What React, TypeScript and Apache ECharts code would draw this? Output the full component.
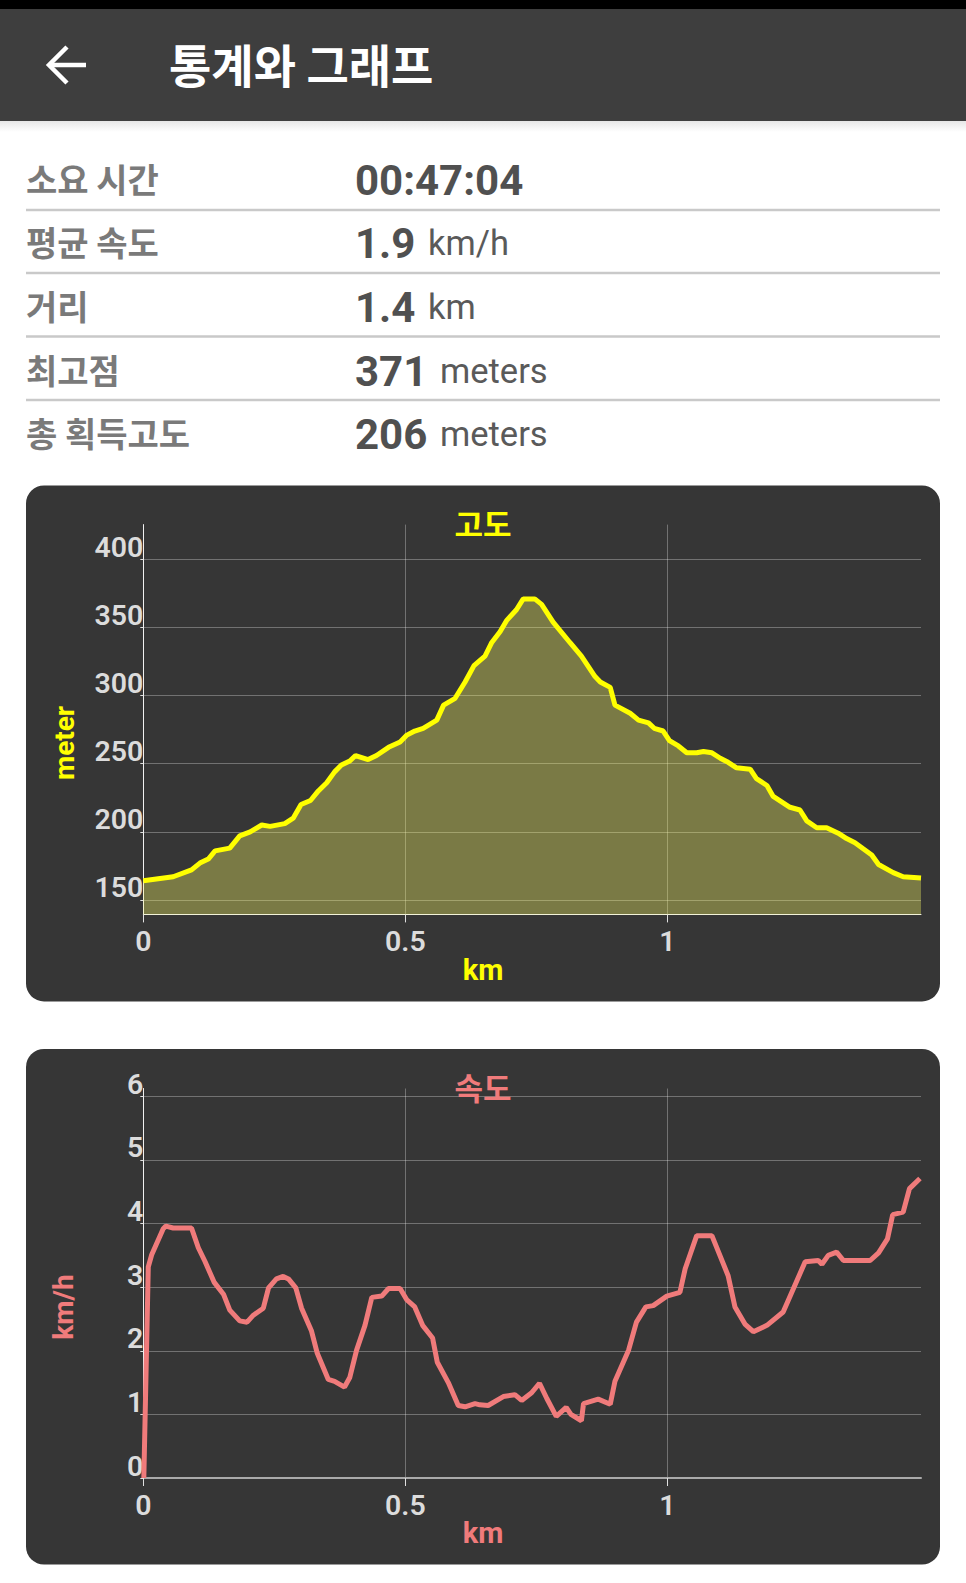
import * as echarts from "echarts";
import { useEffect, useRef } from "react";

const statLabels = ["소요 시간", "평균 속도", "거리", "최고점", "총 획득고도"];
const statValues = ["00:47:04", "1.9", "1.4", "371", "206"];
const statUnits = ["", "km/h", "km", "meters", "meters"];

// km, meters
const elevation = [
  [0, 164], [0.057, 167], [0.092, 172], [0.108, 177], [0.124, 180], [0.137, 186], [0.165, 188],
  [0.184, 197], [0.204, 200], [0.226, 205], [0.242, 204], [0.27, 206], [0.286, 210], [0.301, 220],
  [0.319, 223], [0.334, 230], [0.35, 236], [0.365, 244], [0.378, 249], [0.394, 252], [0.405, 256],
  [0.429, 253], [0.445, 256], [0.468, 262], [0.49, 266], [0.503, 271], [0.518, 274], [0.534, 276],
  [0.56, 282], [0.573, 293], [0.595, 298], [0.614, 310], [0.631, 322], [0.652, 329], [0.665, 339],
  [0.681, 347], [0.693, 355], [0.712, 363], [0.725, 371], [0.747, 371], [0.76, 367], [0.782, 354],
  [0.814, 339], [0.836, 329], [0.862, 314], [0.872, 310], [0.891, 306], [0.9, 293], [0.929, 287],
  [0.945, 282], [0.964, 280], [0.975, 276], [0.992, 274], [1.004, 267], [1.021, 263], [1.037, 258],
  [1.056, 258], [1.069, 259], [1.085, 258], [1.101, 254], [1.116, 251], [1.132, 247], [1.158, 246],
  [1.17, 239], [1.19, 234], [1.202, 226], [1.234, 218], [1.253, 216], [1.266, 208], [1.285, 203],
  [1.304, 203], [1.326, 199], [1.342, 195], [1.358, 192], [1.39, 183], [1.403, 176], [1.431, 170],
  [1.45, 167], [1.484, 166],
];

// km, km/h
const speed = [
  [0.001, 0], [0.0095, 3.32], [0.016, 3.51], [0.038, 3.92], [0.043, 3.96], [0.057, 3.93], [0.092, 3.93],
  [0.105, 3.62], [0.118, 3.4], [0.135, 3.08], [0.153, 2.89], [0.165, 2.64], [0.184, 2.47], [0.198, 2.45],
  [0.21, 2.56], [0.229, 2.67], [0.239, 2.99], [0.254, 3.13], [0.267, 3.17], [0.277, 3.13], [0.291, 2.99],
  [0.302, 2.67], [0.321, 2.31], [0.332, 1.96], [0.353, 1.55], [0.365, 1.52], [0.384, 1.43], [0.394, 1.58],
  [0.407, 2.01], [0.423, 2.4], [0.436, 2.84], [0.455, 2.86], [0.468, 2.98], [0.49, 2.98], [0.503, 2.8],
  [0.518, 2.69], [0.533, 2.4], [0.552, 2.2], [0.561, 1.82], [0.582, 1.5], [0.601, 1.14], [0.614, 1.12],
  [0.633, 1.17], [0.642, 1.15], [0.658, 1.14], [0.687, 1.28], [0.709, 1.31], [0.722, 1.22], [0.741, 1.34],
  [0.756, 1.49], [0.77, 1.25], [0.788, 0.97], [0.807, 1.11], [0.816, 1.0], [0.836, 0.9], [0.84, 1.17],
  [0.868, 1.24], [0.891, 1.16], [0.9, 1.52], [0.926, 2.01], [0.941, 2.45], [0.959, 2.69], [0.973, 2.71],
  [0.999, 2.86], [1.024, 2.92], [1.034, 3.29], [1.056, 3.81], [1.085, 3.81], [1.116, 3.18], [1.129, 2.69],
  [1.148, 2.42], [1.164, 2.3], [1.19, 2.4], [1.221, 2.61], [1.263, 3.4], [1.288, 3.42], [1.295, 3.36],
  [1.307, 3.5], [1.323, 3.55], [1.336, 3.42], [1.387, 3.42], [1.403, 3.54], [1.42, 3.76], [1.43, 4.14],
  [1.45, 4.18], [1.462, 4.55], [1.482, 4.71],
];

const kmTicks = [0, 0.5, 1];
const elevationTicks = [150, 200, 250, 300, 350, 400];
const speedTicks = [0, 1, 2, 3, 4, 5, 6];

const KR = '"Noto Sans CJK KR"';
const YELLOW = "#ffff00";
const CORAL = "#f07b7b";
const GRID_COLOR = "rgba(255,255,255,0.3)";
const LABEL_COLOR = "#dcdcdc";

function text(str: string, x: number, y: number, font: string, fill: string, extra: any = {}) {
  return {
    type: "text",
    x,
    y,
    z: 10,
    silent: true,
    ...extra,
    style: { text: str, font, fill, align: extra.align || "left", verticalAlign: "middle" },
  };
}

function card(y: number, height: number) {
  return {
    type: "rect",
    z: -10,
    silent: true,
    shape: { x: 26, y, width: 914, height, r: 18 },
    style: { fill: "#363636" },
  };
}

function pageGraphics() {
  const rowY = [180, 243, 307, 371, 434];
  const lineY = [210, 273, 336.5, 400];
  const unitX = [0, 428, 428, 440, 440];
  const out: any[] = [
    { type: "rect", z: -10, silent: true, shape: { x: 0, y: 0, width: 966, height: 9 }, style: { fill: "#000" } },
    {
      type: "rect", z: -10, silent: true, shape: { x: 0, y: 120, width: 966, height: 12 },
      style: {
        fill: new echarts.graphic.LinearGradient(0, 0, 0, 1, [
          { offset: 0, color: "#e4e4e4" },
          { offset: 1, color: "#ffffff" },
        ]),
      },
    },
    { type: "rect", z: -9, silent: true, shape: { x: 0, y: 9, width: 966, height: 112 }, style: { fill: "#3e3e3e" } },
    {
      type: "polyline", z: 10, silent: true,
      shape: { points: [[67, 47], [49, 65], [67, 83]] },
      style: { stroke: "#fff", lineWidth: 4.5, fill: "none" },
    },
    { type: "line", z: 10, silent: true, shape: { x1: 50, y1: 65, x2: 86, y2: 65 }, style: { stroke: "#fff", lineWidth: 4.5 } },
    text("통계와 그래프", 169, 63, `700 46px ${KR}`, "#ffffff"),
    card(485.4, 516),
    card(1049, 515.6),
    text("고도", 483, 522, `700 31px ${KR}`, YELLOW, { align: "center" }),
    text("km", 483, 970, "700 29px Roboto", YELLOW, { align: "center" }),
    text("meter", 64, 743, "700 28px Roboto", YELLOW, { align: "center", rotation: Math.PI / 2 }),
    text("속도", 483, 1086, `700 31px ${KR}`, CORAL, { align: "center" }),
    text("km", 483, 1533, "700 29px Roboto", CORAL, { align: "center" }),
    text("km/h", 63, 1307, "700 28px Roboto", CORAL, { align: "center", rotation: Math.PI / 2 }),
  ];
  statLabels.forEach((label, i) => {
    out.push(text(label, 26, rowY[i] - 2, `700 34px ${KR}`, "#7a7a7a"));
    out.push(text(statValues[i], 355, rowY[i], "700 42px Roboto", "#505050"));
    if (statUnits[i]) out.push(text(statUnits[i], unitX[i], rowY[i], "400 34.5px Roboto", "#5a5a5a"));
  });
  lineY.forEach((y) => {
    out.push({
      type: "line", z: 1, silent: true,
      shape: { x1: 26, y1: y, x2: 940, y2: y },
      style: { stroke: "#c9c9c9", lineWidth: 2.5 },
    });
  });
  return out;
}

function xAxis(gridIndex: number, lineColor: string, lineWidth: number) {
  return {
    type: "value",
    gridIndex,
    min: 0,
    max: 1.484,
    axisLine: { show: true, lineStyle: { color: lineColor, width: lineWidth } },
    axisTick: { show: true, customValues: kmTicks, length: 8, lineStyle: { color: "#e0e0e0", width: 1 } },
    splitLine: { show: true, lineStyle: { color: GRID_COLOR, width: 1 } },
    axisLabel: {
      customValues: kmTicks,
      margin: 13,
      color: LABEL_COLOR,
      fontFamily: "Roboto",
      fontWeight: 600,
      fontSize: 28.5,
    },
  };
}

function yAxis(gridIndex: number, min: number, max: number, ticks: number[]) {
  return {
    type: "value",
    gridIndex,
    min,
    max,
    axisLine: { show: true, onZero: false, lineStyle: { color: "#f0f0f0", width: 1 } },
    axisTick: { show: true, customValues: ticks, length: 3, lineStyle: { color: "#e0e0e0", width: 1 } },
    splitLine: { show: true, lineStyle: { color: GRID_COLOR, width: 1 } },
    axisLabel: {
      customValues: ticks,
      margin: 0,
      verticalAlign: "bottom",
      lineHeight: 24,
      color: LABEL_COLOR,
      fontFamily: "Roboto",
      fontWeight: 600,
      fontSize: 28.5,
    },
  };
}

const App = () => {
  const chartRef = useRef<HTMLDivElement>(null);

  useEffect(() => {
    if (!chartRef.current) {
      return;
    }
    const chartInstance = echarts.init(chartRef.current, undefined, { renderer: "svg" });
    chartInstance.setOption({
      animation: false,
      backgroundColor: "#ffffff",
      graphic: { elements: pageGraphics() },
      grid: [
        { left: 143.3, top: 524.6, width: 777.7, height: 389.8 },
        { left: 143.3, top: 1088.5, width: 777.7, height: 389.5 },
      ],
      xAxis: [xAxis(0, "#f0f0f0", 1), xAxis(1, "#aaaaaa", 2)],
      yAxis: [yAxis(0, 139.35, 425.55, elevationTicks), yAxis(1, 0, 6.124, speedTicks)],
      series: [
        {
          type: "line",
          xAxisIndex: 0,
          yAxisIndex: 0,
          data: elevation,
          symbol: "none",
          silent: true,
          lineStyle: { color: YELLOW, width: 5 },
          areaStyle: { color: "rgba(255,255,100,0.34)", origin: "start", opacity: 1 },
        },
        {
          type: "line",
          xAxisIndex: 1,
          yAxisIndex: 1,
          data: speed,
          symbol: "none",
          silent: true,
          lineStyle: { color: CORAL, width: 5 },
        },
      ],
    });
    return () => {
      chartInstance.dispose();
    };
  }, []);

  return (
    <div
      ref={chartRef}
      style={{ position: "absolute", left: 0, top: 0, width: "966px", height: "1583px" }}
    ></div>
  );
};

export default App;
